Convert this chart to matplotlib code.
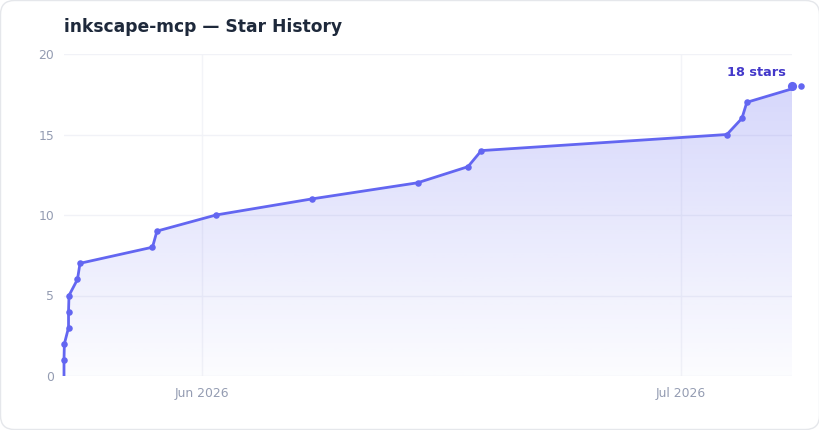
import numpy as np
import matplotlib
matplotlib.use("Agg")
import matplotlib.pyplot as plt
import matplotlib.dates as mdates
from matplotlib.patches import FancyBboxPatch, PathPatch, Rectangle
from matplotlib.colors import LinearSegmentedColormap
from datetime import datetime

plt.rcParams['font.family'] = ['DejaVu Sans']

title = "inkscape-mcp — Star History"
timestamps = ["2026-05-23 08:34", "2026-05-23 08:34", "2026-05-23 09:07", "2026-05-23 15:22",
              "2026-05-23 15:22", "2026-05-23 16:05", "2026-05-24 04:48", "2026-05-24 08:38",
              "2026-05-28 21:36", "2026-05-29 04:19", "2026-06-01 21:03", "2026-06-07 21:20",
              "2026-06-14 12:00", "2026-06-17 15:50", "2026-06-18 12:00", "2026-07-03 21:07",
              "2026-07-04 19:41", "2026-07-05 03:07", "2026-07-08 12:14"]
stars = [0, 1, 2, 3, 4, 5, 6, 7, 8, 9, 10, 11, 12, 13, 14, 15, 16, 17, 18]
x_range = ["2026-05-23 08:34", "2026-07-07 23:00"]
x_ticks = ["2026-06-01", "2026-07-01"]
x_tick_labels = ["Jun 2026", "Jul 2026"]
y_ticks = [0, 5, 10, 15, 20]
end_label = "18 stars"

W, H = 820, 430
fig = plt.figure(figsize=(W / 100, H / 100), dpi=100, facecolor="white")

bg = fig.add_axes([0, 0, 1, 1], zorder=0)
bg.set_xlim(0, W); bg.set_ylim(H, 0); bg.axis("off")
bg.add_patch(FancyBboxPatch((0.5, 0.5), W - 1, H - 1, boxstyle="round,pad=0,rounding_size=14",
                            fc="white", ec="#e5e7eb", lw=1))

ax = fig.add_axes([64 / W, 1 - 376 / H, (792 - 64) / W, (376 - 54) / H], zorder=1)
ax.patch.set_alpha(0)
dates = [datetime.fromisoformat(t) for t in timestamps]
xs = mdates.date2num(dates)
x0, x1 = mdates.date2num([datetime.fromisoformat(t) for t in x_range])
ax.set_xlim(x0, x1)
ax.set_ylim(0, 20)

for s in ax.spines.values():
    s.set_visible(False)
ax.set_xticks(mdates.date2num([datetime.fromisoformat(t) for t in x_ticks]))
ax.set_xticklabels(x_tick_labels)
ax.set_yticks(y_ticks)
ax.tick_params(length=0, labelsize=8.9, labelcolor="#949cb2")
ax.tick_params(axis="x", pad=8)
ax.tick_params(axis="y", pad=7)
ax.grid(True, axis="y", color="#f1f2f7", lw=1, zorder=1)
ax.grid(True, axis="x", color="#f3f4f8", lw=1, zorder=1)
ax.set_axisbelow(True)

# gradient area under the line
poly = ax.fill_between(xs, stars, 0, color="none", lw=0)
cmap = LinearSegmentedColormap.from_list(
    "g", [(0.388, 0.4, 0.945, 0.02), (0.388, 0.4, 0.945, 0.26)])
img = ax.imshow(np.linspace(1, 0, 256).reshape(-1, 1), extent=[x0, x1, 0, 18], aspect="auto",
                cmap=cmap, vmin=0, vmax=1, zorder=2)
ax.set_xlim(x0, x1); ax.set_ylim(0, 20)
path = poly.get_paths()[0]
clip = PathPatch(path, transform=ax.transData, fc="none", ec="none")
ax.add_patch(clip)
img.set_clip_path(clip)

line, = ax.plot(xs, stars, color="#6366f1", lw=2.0, solid_joinstyle="round", zorder=3)
line.set_clip_path(Rectangle((x0 - 0.2, 0), x1 - x0 + 0.2, 20, transform=ax.transData))
ax.plot(xs[1:], stars[1:], ls="none", marker="o", ms=4.7, mfc="#6366f1", mec="#6366f1",
        mew=0, clip_on=False, zorder=4)
ax.plot([x1], [stars[-1]], ls="none", marker="o", ms=6.6, mfc="#6366f1", mew=0, clip_on=False, zorder=5)
ax.annotate(end_label, xy=(x1, stars[-1]), xytext=(-4.5, 5), textcoords="offset points",
            ha="right", va="bottom", color="#4338ca", fontsize=9.3, fontweight="bold",
            annotation_clip=False)

fig.text(64 / W, 1 - 26.5 / H, title, fontsize=12.3, fontweight="bold", color="#1e293b",
         ha="left", va="center")

fig.savefig("out.png", dpi=100)
